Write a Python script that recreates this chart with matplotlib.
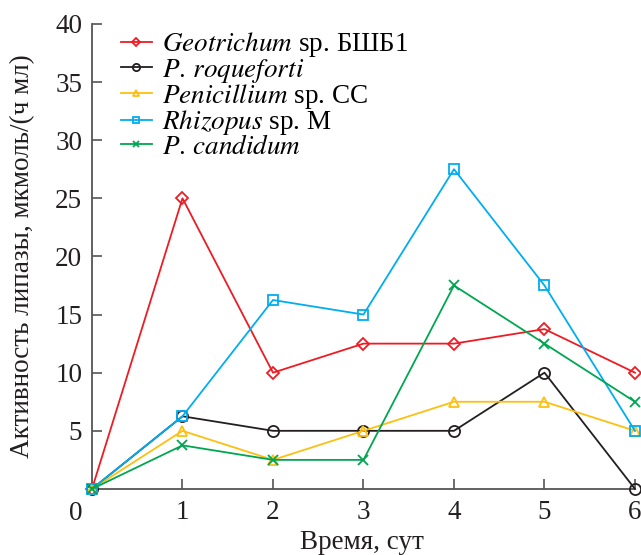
import numpy as np
import matplotlib
matplotlib.use('Agg')
import matplotlib.pyplot as plt

plt.rcParams['font.family'] = ['Liberation Serif', 'DejaVu Serif']
plt.rcParams['mathtext.fontset'] = 'stix'

days = [0, 1, 2, 3, 4, 5, 6]

geotrichum = [0, 25, 10, 12.5, 12.5, 13.75, 10]
roqueforti = [0, 6.25, 5, 5, 5, 10, 0]
penicillium = [0, 5, 2.5, 5, 7.5, 7.5, 5]
rhizopus = [0, 6.25, 16.25, 15, 27.5, 17.5, 5]
candidum = [0, 3.75, 2.5, 2.5, 17.5, 12.5, 7.5]

labels = [r'$\mathit{Geotrichum}$ sp. БШБ1',
          r'$\mathit{P.\,roqueforti}$',
          r'$\mathit{Penicillium}$ sp. СС',
          r'$\mathit{Rhizopus}$ sp. M',
          r'$\mathit{P.\,candidum}$']
colors = ['#ED1C24', '#231F20', '#FDC010', '#00AEEF', '#00A651']
markers = ['D', 'o', '^', 's', 'x']
sizes = [6, 8, 7, 7, 7]

FS = 19.5

fig = plt.figure(figsize=(6.41, 5.55), dpi=100)
ax = fig.add_axes([0.1435, 0.119, 0.8471, 0.838])

series = [geotrichum, roqueforti, penicillium, rhizopus, candidum]
for vals, lab, c, m, s in zip(series, labels, colors, markers, sizes):
    ax.plot(days, vals, color=c, marker=m, ms=s, mfc='none', mec=c,
            mew=1.3, lw=1.3, label=lab, clip_on=False, zorder=3)

ax.set_xlim(0, 6)
ax.set_ylim(0, 40)
ax.set_xticks([1, 2, 3, 4, 5, 6])
ax.set_yticks([5, 10, 15, 20, 25, 30, 35, 40])
ax.tick_params(direction='in', length=7, width=1.2, color='#555555',
               labelsize=FS, labelcolor='#231F20', pad=7)
ax.tick_params(axis='x', pad=8)
for side in ['top', 'right']:
    ax.spines[side].set_visible(False)
for side in ['left', 'bottom']:
    ax.spines[side].set_color('#555555')
    ax.spines[side].set_linewidth(1.3)

ax.text(-0.18, -1.0, '0', transform=ax.transData, ha='center', va='top',
        fontsize=FS, color='#231F20')

ax.set_xlabel('Время, сут', fontsize=FS, color='#231F20')
ax.xaxis.set_label_coords(0.497, -0.088)
ax.set_ylabel('Активность липазы, мкмоль/(ч мл)', fontsize=FS,
              color='#231F20')
ax.yaxis.set_label_coords(-0.105, 0.5)

leg = ax.legend(loc='upper left', bbox_to_anchor=(0.053, 0.986), frameon=False,
                fontsize=FS, handlelength=1.15, handletextpad=0.37,
                labelspacing=-0.1, borderaxespad=0.0, borderpad=0.0,
                markerscale=0.65)

fig.savefig('out.png', dpi=100)
